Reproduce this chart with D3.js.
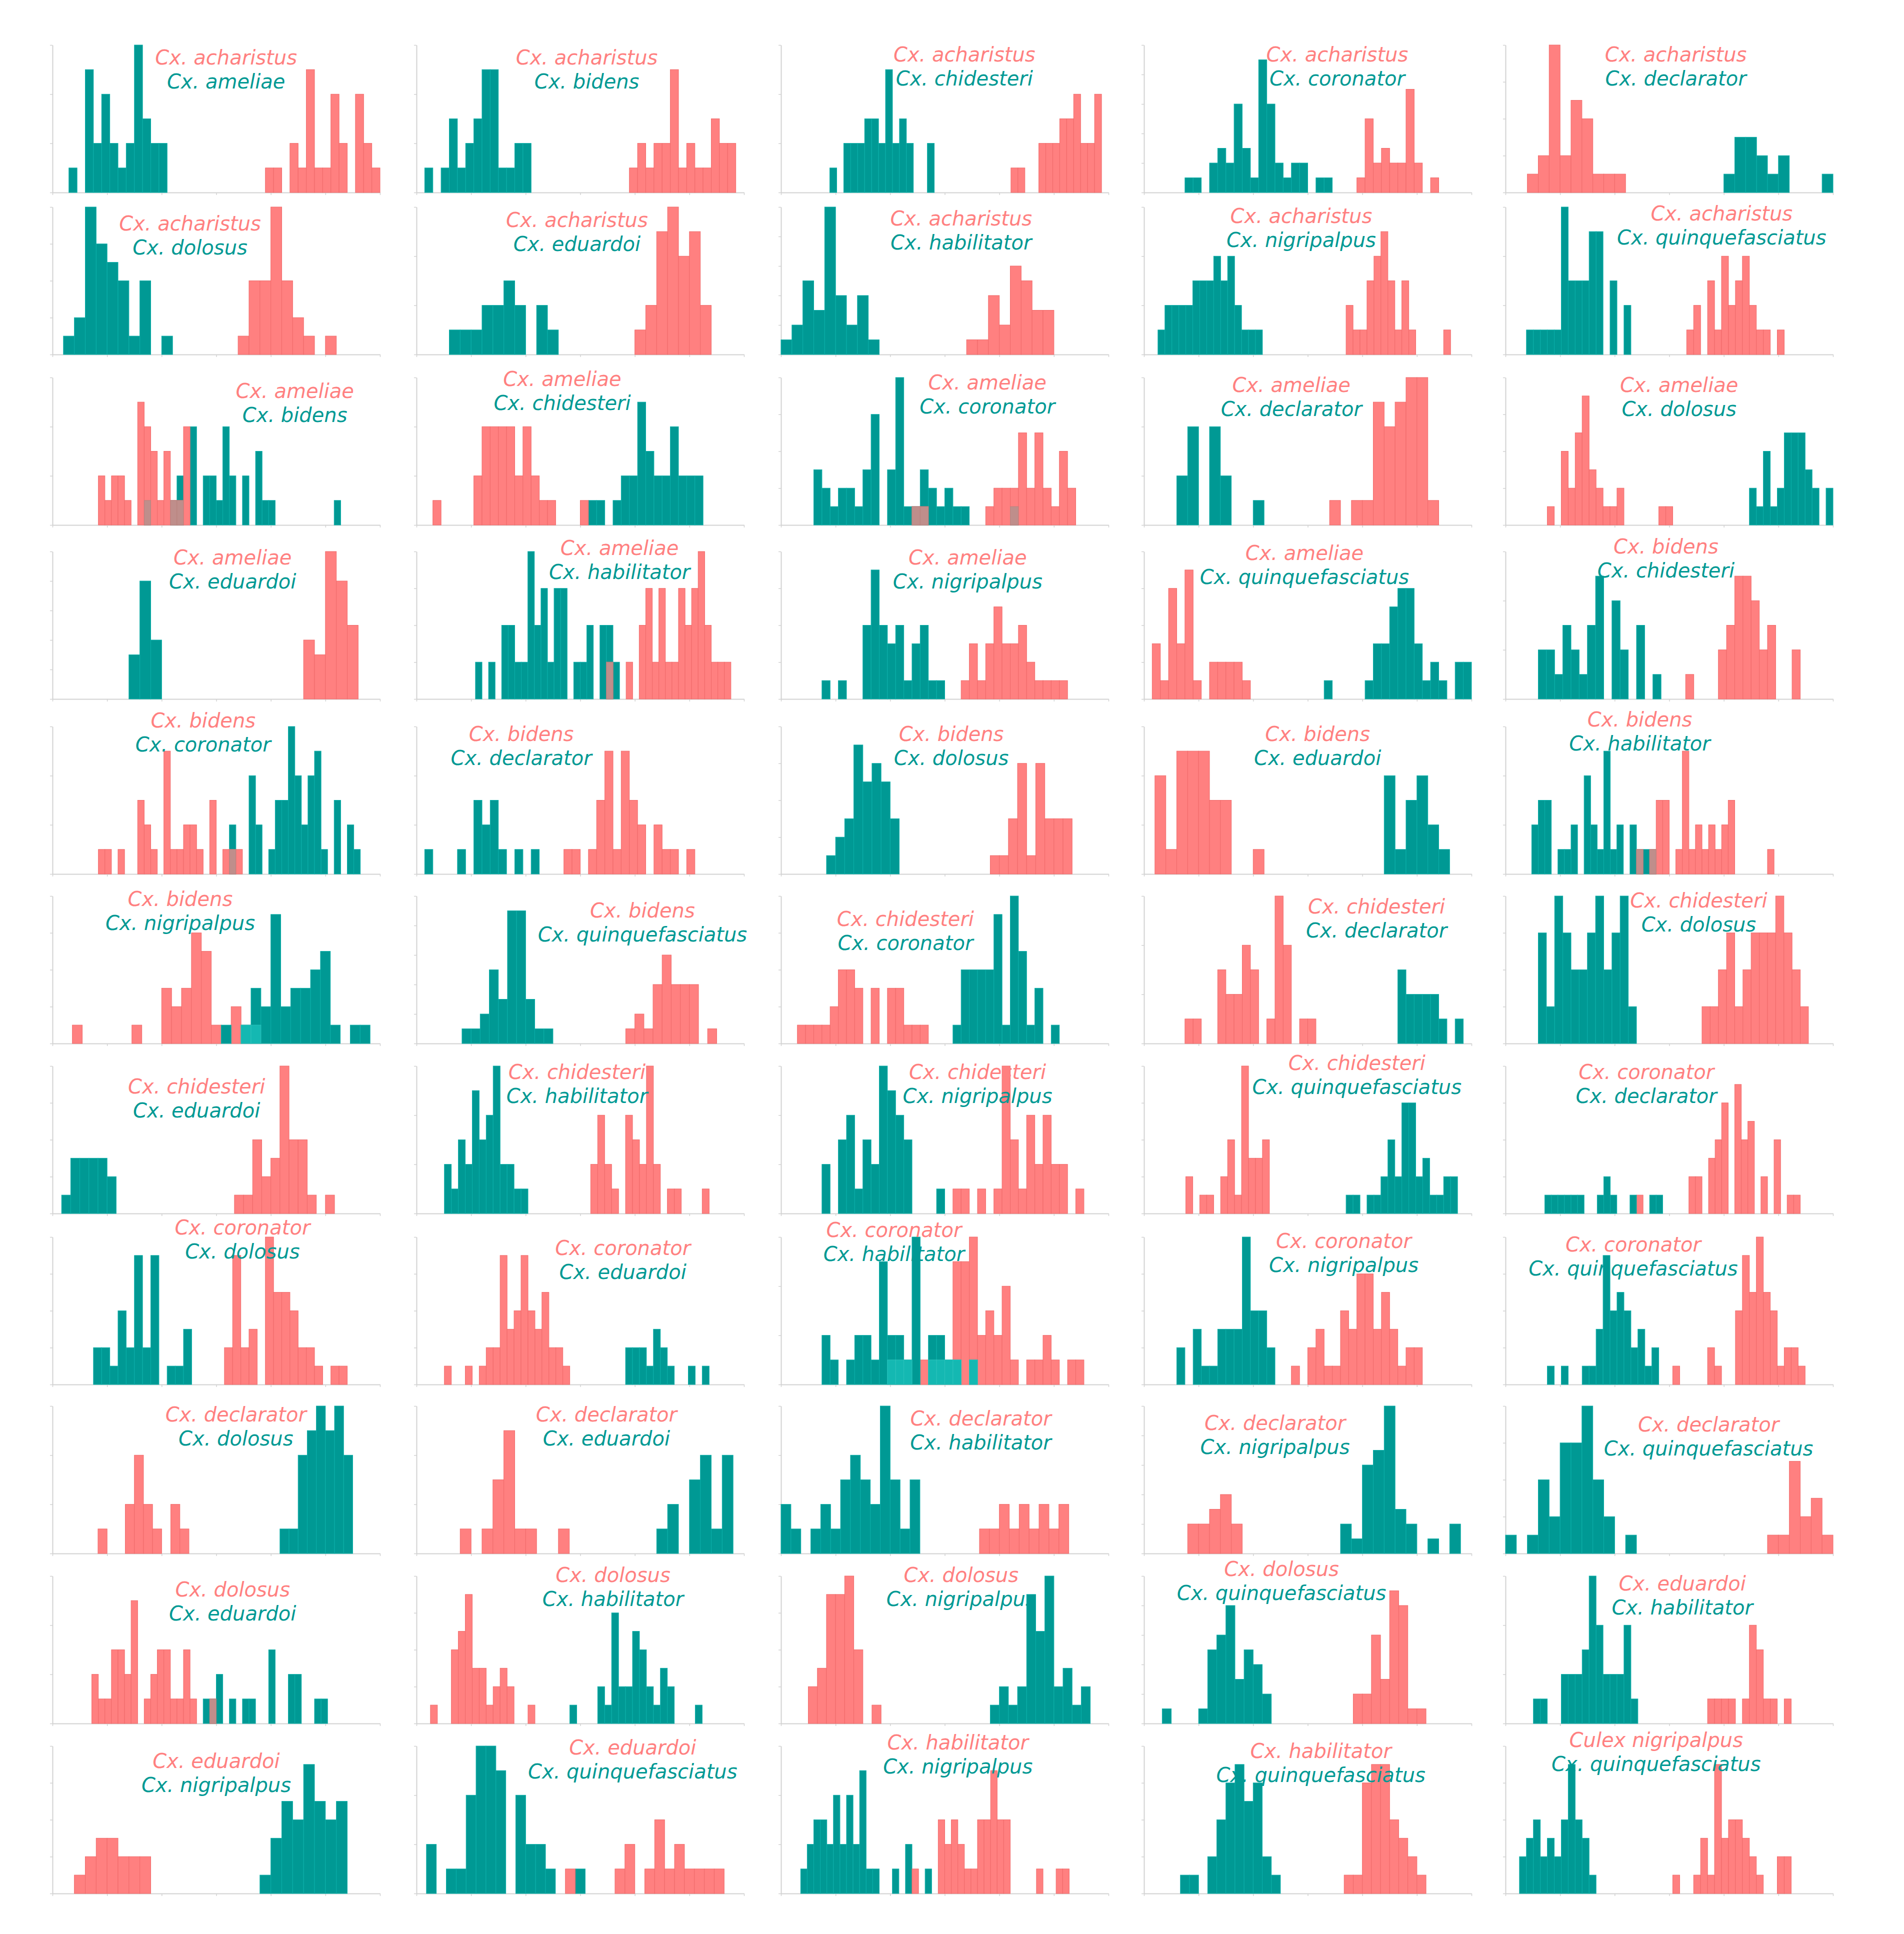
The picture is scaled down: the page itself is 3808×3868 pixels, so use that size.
<!DOCTYPE html>
<html>
<head>
<meta charset="utf-8">
<script src="https://cdn.jsdelivr.net/npm/d3@7"></script>
<style>
  body { margin: 0; background: #ffffff; }
  svg { display: block; }
</style>
</head>
<body>
<svg id="chart"></svg>
<script>
// Пары видов: верхняя подпись (розовый) и нижняя (бирюзовый), по строкам слева направо
const pinkNames = [
    "Cx. acharistus", "Cx. acharistus", "Cx. acharistus", "Cx. acharistus", "Cx. acharistus",
    "Cx. acharistus", "Cx. acharistus", "Cx. acharistus", "Cx. acharistus", "Cx. acharistus",
    "Cx. ameliae", "Cx. ameliae", "Cx. ameliae", "Cx. ameliae", "Cx. ameliae",
    "Cx. ameliae", "Cx. ameliae", "Cx. ameliae", "Cx. ameliae", "Cx. bidens",
    "Cx. bidens", "Cx. bidens", "Cx. bidens", "Cx. bidens", "Cx. bidens",
    "Cx. bidens", "Cx. bidens", "Cx. chidesteri", "Cx. chidesteri", "Cx. chidesteri",
    "Cx. chidesteri", "Cx. chidesteri", "Cx. chidesteri", "Cx. chidesteri", "Cx. coronator",
    "Cx. coronator", "Cx. coronator", "Cx. coronator", "Cx. coronator", "Cx. coronator",
    "Cx. declarator", "Cx. declarator", "Cx. declarator", "Cx. declarator", "Cx. declarator",
    "Cx. dolosus", "Cx. dolosus", "Cx. dolosus", "Cx. dolosus", "Cx. eduardoi",
    "Cx. eduardoi", "Cx. eduardoi", "Cx. habilitator", "Cx. habilitator", "Culex nigripalpus"
];
const tealNames = [
    "Cx. ameliae", "Cx. bidens", "Cx. chidesteri", "Cx. coronator", "Cx. declarator",
    "Cx. dolosus", "Cx. eduardoi", "Cx. habilitator", "Cx. nigripalpus", "Cx. quinquefasciatus",
    "Cx. bidens", "Cx. chidesteri", "Cx. coronator", "Cx. declarator", "Cx. dolosus",
    "Cx. eduardoi", "Cx. habilitator", "Cx. nigripalpus", "Cx. quinquefasciatus", "Cx. chidesteri",
    "Cx. coronator", "Cx. declarator", "Cx. dolosus", "Cx. eduardoi", "Cx. habilitator",
    "Cx. nigripalpus", "Cx. quinquefasciatus", "Cx. coronator", "Cx. declarator", "Cx. dolosus",
    "Cx. eduardoi", "Cx. habilitator", "Cx. nigripalpus", "Cx. quinquefasciatus", "Cx. declarator",
    "Cx. dolosus", "Cx. eduardoi", "Cx. habilitator", "Cx. nigripalpus", "Cx. quinquefasciatus",
    "Cx. dolosus", "Cx. eduardoi", "Cx. habilitator", "Cx. nigripalpus", "Cx. quinquefasciatus",
    "Cx. eduardoi", "Cx. habilitator", "Cx. nigripalpus", "Cx. quinquefasciatus", "Cx. habilitator",
    "Cx. nigripalpus", "Cx. quinquefasciatus", "Cx. nigripalpus", "Cx. quinquefasciatus", "Cx. quinquefasciatus"
];

// Число интервалов гистограммы по оси X в каждой панели
const binCounts = [
    40, 40, 47, 40, 30,
    30, 30, 30, 47, 47,
    50, 40, 40, 30, 47,
    30, 50, 40, 40, 40,
    50, 40, 36, 30, 50,
    33, 36, 40, 40, 40,
    36, 47, 40, 47, 50,
    40, 47, 40, 40, 47,
    36, 30, 33, 30, 30,
    50, 47, 36, 36, 47,
    30, 33, 50, 36, 47
];

// Розовая серия: первый интервал и частоты подряд
const pinkStart = [
    26, 26, 33, 26, 2,
    17, 20, 17, 29, 26,
    7, 2, 16, 17, 6,
    23, 29, 22, 1, 22,
    7, 18, 23, 1, 20,
    2, 23, 2, 5, 24,
    20, 25, 21, 6, 20,
    21, 4, 13, 18, 24,
    5, 4, 20, 4, 24,
    6, 2, 3, 23, 29,
    2, 15, 20, 22, 24
];
const pinkHist = [
    [1,1,0,2,1,5,1,1,4,2,0,4,2,1],
    [1,2,1,2,2,5,1,2,1,1,3,2,2],
    [1,1,0,0,2,2,2,3,3,4,2,2,4],
    [1,5,2,3,2,2,7,2,0,1],
    [1,2,8,2,5,4,1,1,1],
    [1,4,4,8,4,2,1,0,1],
    [1,2,5,6,4,5,2],
    [1,1,4,2,6,5,3,3],
    [2,1,1,3,4,5,3,1,3,1,0,0,0,0,1],
    [1,2,0,3,1,4,2,3,4,2,1,1,0,1],
    [2,1,2,2,1,0,5,4,3,1,3,1,1,4],
    [1,0,0,0,0,2,4,4,4,4,2,4,2,1,1,0,0,0,1],
    [1,1,0,0,0,0,0,0,0,1,2,2,2,5,2,5,2,1,4,2],
    [1,0,1,1,5,4,5,6,6,1],
    [1,0,4,2,5,7,3,2,1,1,2,0,0,0,0,0,1,1],
    [4,3,10,8,5],
    [1,0,0,1,0,2,3,1,3,1,1,3,2,3,4,2,1,1,1],
    [1,3,1,3,5,3,3,4,2,1,1,1,1],
    [3,1,6,3,7,1,0,2,2,2,2,1],
    [1,0,0,0,2,3,5,5,4,2,3,0,0,2],
    [1,1,0,1,0,0,3,2,1,0,5,1,1,2,2,1,0,3,0,1,1,1],
    [1,1,0,1,3,5,1,5,3,2,0,2,1,1,0,1],
    [1,1,3,6,1,6,3,3,3],
    [4,1,5,5,5,3,3,0,0,1],
    [1,0,1,3,3,0,1,5,1,2,1,2,1,2,3,0,0,0,0,0,1],
    [1,0,0,0,0,0,1,0,0,3,2,3,6,5,1,0,2,1,1],
    [1,2,1,4,6,4,4,4,0,1],
    [1,1,1,1,2,4,4,3,0,3,0,3,3,1,1,1],
    [1,1,0,0,3,2,2,4,3,0,1,6,4,0,1,1],
    [1,1,2,3,1,2,3,3,3,4,3,2,1],
    [1,1,4,2,3,8,4,4,1,0,1],
    [2,4,2,1,0,4,3,2,6,2,0,1,1,0,0,0,1],
    [1,1,0,1,0,1,6,3,1,4,2,4,2,2,0,1],
    [2,0,1,1,0,2,4,1,8,3,3,4],
    [1,0,0,0,0,0,0,0,2,2,0,3,4,6,0,7,4,5,0,2,0,4,0,1,1],
    [2,7,2,3,0,8,5,5,4,2,2,1,0,1,1],
    [1,0,0,1,0,1,2,2,7,3,4,7,4,3,5,2,2,1],
    [1,1,1,0,1,1,1,1,5,5,6,2,3,2,4,1,0,1,1,2,1,0,1,1],
    [1,0,2,3,1,1,4,3,6,6,3,5,3,1,2,2],
    [1,0,0,0,0,2,1,0,0,4,7,5,8,5,4,1,2,2,1],
    [1,0,0,2,4,2,1,0,2,1],
    [1,0,1,3,5,1,1,0,0,1],
    [1,1,2,1,2,1,2,1,2],
    [2,2,3,4,2],
    [1,1,5,2,3,1],
    [2,1,1,3,3,2,5,0,1,2,3,3,1,1,3,1,0,0,1],
    [1,0,0,4,5,7,3,3,1,2,3,2,0,0,1],
    [2,3,7,7,8,4,0,1],
    [2,2,6,3,9,8,1,1],
    [1,1,1,1,0,1,4,3,1,1,0,1],
    [1,2,3,3,2,2,2],
    [1,0,0,0,0,1,2,0,1,3,1,2,1,1,1,1],
    [1,0,0,0,3,2,3,2,1,1,3,3,5,3,3,0,0,0,0,1,0,0,1,1],
    [1,1,6,7,7,4,3,2,1],
    [1,0,0,1,3,1,7,3,4,4,3,2,1,0,0,2,2]
];

// Бирюзовая серия: первый интервал и частоты подряд
const tealStart = [
    2, 1, 7, 5, 20,
    1, 3, 0, 2, 3,
    14, 21, 4, 3, 35,
    7, 9, 5, 22, 4,
    27, 1, 5, 22, 4,
    17, 5, 21, 31, 4,
    1, 4, 5, 29, 6,
    5, 30, 5, 4, 6,
    25, 22, 0, 18, 0,
    23, 22, 23, 2, 4,
    19, 1, 3, 4, 2
];
const tealHist = [
    [1,0,5,2,4,2,1,2,6,3,2,2],
    [1,0,1,3,1,2,3,5,5,1,1,2,2],
    [1,0,2,2,2,3,3,2,5,2,3,2,0,0,2],
    [1,1,0,2,3,2,6,3,1,9,6,2,1,2,2,0,1,1],
    [1,3,3,2,1,2,0,0,0,1],
    [1,2,8,6,5,4,1,4,0,1],
    [1,1,1,2,2,3,2,0,2,1],
    [1,2,5,3,10,4,2,4,1],
    [1,2,2,2,2,3,3,3,4,3,4,2,1,1,1],
    [1,1,1,1,1,6,3,3,3,5,5,0,3,0,2],
    [1,0,0,0,1,2,0,4,0,2,2,1,4,2,0,2,0,3,1,1,0,0,0,0,0,0,0,0,0,1],
    [1,1,0,1,2,2,5,3,2,2,4,2,2,2],
    [3,2,1,2,2,1,3,6,0,3,8,1,1,3,2,1,2,1,1,0,0,0,0,0,1],
    [2,4,0,4,2,0,0,1],
    [2,1,4,1,2,5,5,5,3,2,0,2],
    [3,8,4],
    [1,0,1,0,2,2,1,1,4,2,3,1,3,3,0,1,1,2,0,2,2,1],
    [1,0,1,0,0,4,7,4,3,4,1,3,4,1,1],
    [1,0,0,0,0,1,3,3,5,6,6,3,1,2,1,0,2,2],
    [2,2,1,3,2,1,3,5,0,4,2,0,3,0,1],
    [2,0,0,4,2,0,1,3,3,6,4,2,4,5,1,0,3,0,2,1],
    [1,0,0,0,1,0,3,2,3,1,0,1,0,1],
    [1,2,3,7,5,6,5,3],
    [4,1,3,4,2,1],
    [2,3,3,0,1,1,2,0,4,2,1,5,1,2,0,2,1,1,1],
    [1,0,1,3,2,7,2,3,3,4,5,1,0,1,1],
    [1,1,2,5,3,9,9,3,1,1],
    [1,4,4,4,4,7,1,8,5,1,3,0,1],
    [3,2,2,2,2,1,0,1],
    [3,1,4,3,2,2,3,4,2,3,4,1],
    [1,3,3,3,3,2],
    [2,1,3,2,5,3,4,6,2,2,1,1],
    [2,0,3,4,1,3,2,6,5,4,3,0,0,0,1],
    [1,1,0,1,1,2,4,2,6,6,2,3,1,1,2,2],
    [1,1,1,1,1,1,0,0,1,2,1,0,0,1,0,0,1,1],
    [2,2,1,4,2,7,2,7,0,1,1,3],
    [2,2,2,1,3,2,1,0,0,1,0,1],
    [2,1,0,1,2,2,1,5,2,2,1,6,0,2,2,1,1,0,1],
    [2,0,3,1,1,3,3,3,8,4,4,2],
    [1,0,1,0,0,1,1,3,7,4,5,4,2,3,1,2],
    [1,1,4,5,6,5,6,4],
    [1,2,0,3,4,1,4],
    [2,1,0,1,2,1,3,4,3,2,6,3,1,3],
    [2,1,6,7,10,3,2,0,1,0,2],
    [1,0,1,4,2,6,6,8,4,2,0,1],
    [1,1,2,0,1,0,1,1,0,0,3,0,0,2,2,0,0,1,1],
    [1,0,0,0,2,1,6,2,2,5,4,2,1,3,2,0,0,0,1],
    [1,2,1,2,7,5,8,2,3,1,2],
    [1,0,0,0,1,5,6,8,3,5,4,2],
    [1,1,0,0,2,2,2,3,6,4,2,2,2,4,1],
    [1,3,5,4,7,5,4,5],
    [2,0,1,1,4,6,6,5,0,4,2,2,1,0,0,1],
    [1,2,3,3,2,4,2,4,2,5,1,1,0,0,1,0,2,0,0,1],
    [1,1,0,2,4,6,7,5,6,2,1],
    [2,3,4,2,3,2,4,7,4,3,1]
];

// Панели, где бирюзовые столбцы лежат поверх розовых
const tealOnTop = [25, 34, 37];

// Раскладка сетки
const svg_width = 3808, svg_height = 3868;
const colLeft = [105, 833, 1562, 2288, 3011];
const rowTop = [90, 414, 755, 1103, 1453, 1792, 2132, 2474, 2812, 3152, 3492];
const panelW = 655, panelH = 295;

// Положение подписи: доля ширины панели и отступ базовой линии от верха
const labelX = [
    0.53, 0.52, 0.56, 0.59, 0.52,
    0.42, 0.49, 0.55, 0.48, 0.66,
    0.74, 0.445, 0.63, 0.45, 0.53,
    0.55, 0.62, 0.57, 0.49, 0.49,
    0.46, 0.32, 0.52, 0.53, 0.41,
    0.39, 0.69, 0.38, 0.71, 0.59,
    0.44, 0.49, 0.60, 0.65, 0.43,
    0.58, 0.63, 0.345, 0.61, 0.39,
    0.56, 0.58, 0.61, 0.40, 0.62,
    0.55, 0.60, 0.55, 0.42, 0.54,
    0.50, 0.66, 0.54, 0.54, 0.46
];
const labelDy = [
    39, 39, 33, 33, 33,
    47, 40, 37, 32, 27,
    41, 17, 24, 29, 29,
    26, 7, 26, 17, 4,
    2, 29, 29, 29, 0,
    20, 43, 60, 35, 23,
    55, 26, 26, 8, 26,
    -5, 36, 0, 22, 29,
    31, 31, 39, 48, 51,
    41, 12, 12, 0, 29,
    44, 17, 7, 24, 2
];

const PINK = "#ff8080", PINK_EDGE = "#f06a6a";
const TEAL = "#009994", TEAL_EDGE = "#0bb0aa";
const AXIS = "#d2d2d2";

const svg = d3.select("#chart")
    .attr("width", svg_width)
    .attr("height", svg_height)
    .attr("viewBox", `0 0 ${svg_width} ${svg_height}`);

svg.append("rect")
    .attr("width", svg_width)
    .attr("height", svg_height)
    .attr("fill", "#ffffff");

//Переводим (старт, частоты) в список непустых интервалов
function toBins(start, counts) {
    return counts
        .map((n, k) => ({bin: start + k, n: n}))
        .filter(d => d.n > 0);
}

//Рисуем столбцы одной серии
function drawBars(g, bins, x, y, fill, edge) {
    g.append("g")
        .selectAll("rect")
        .data(bins)
        .join("rect")
        .attr("x", d => x(d.bin))
        .attr("y", d => y(d.n))
        .attr("width", d => x(d.bin + 1) - x(d.bin))
        .attr("height", d => y(0) - y(d.n))
        .attr("fill", fill)
        .attr("stroke", edge)
        .attr("stroke-width", 1);
}

//Рисуем одну панель с гистограммами
function drawPanel(i) {
    const row = Math.floor(i / 5), col = i % 5;
    const left = colLeft[col], top = rowTop[row], bottom = top + panelH;
    const nBins = binCounts[i];

    const pink = toBins(pinkStart[i], pinkHist[i]);
    const teal = toBins(tealStart[i], tealHist[i]);
    const maxN = d3.max(pink.concat(teal), d => d.n);
    const yMax = Math.ceil(maxN / 2) * 2;

    const x = d3.scaleLinear().domain([0, nBins]).range([left, left + panelW]);
    const y = d3.scaleLinear().domain([0, yMax]).range([bottom, top]);

    const g = svg.append("g").attr("class", "panel");

    // Оси
    const xAxis = g.append("g")
        .attr("transform", `translate(0,${bottom})`)
        .call(d3.axisBottom(x)
            .tickValues(d3.range(7).map(k => k * nBins / 6))
            .tickFormat("")
            .tickSize(5)
            .tickSizeOuter(0));
    const yAxis = g.append("g")
        .attr("transform", `translate(${left},0)`)
        .call(d3.axisLeft(y)
            .tickValues(d3.range(0, yMax + 1, yMax > 4 ? 2 : 1))
            .tickFormat("")
            .tickSize(5)
            .tickSizeOuter(0));
    [xAxis, yAxis].forEach(a => {
        a.select(".domain").attr("stroke", AXIS).attr("stroke-width", 2);
        a.selectAll(".tick line").attr("stroke", AXIS).attr("stroke-width", 1.5);
    });

    // Столбцы
    const onTop = tealOnTop.includes(i);
    if (onTop) {
        drawBars(g, pink, x, y, PINK, PINK_EDGE);
        drawBars(g, teal, x, y, TEAL, TEAL_EDGE);
    } else {
        drawBars(g, teal, x, y, TEAL, TEAL_EDGE);
        drawBars(g, pink, x, y, PINK, PINK_EDGE);
    }

    // Пересечение серий
    const tealMap = new Map(teal.map(d => [d.bin, d.n]));
    const overlap = pink
        .filter(d => tealMap.has(d.bin))
        .map(d => ({bin: d.bin, n: Math.min(d.n, tealMap.get(d.bin))}));
    drawBars(g, overlap, x, y,
        onTop ? "#14b8b2" : "#bf8e8b",
        onTop ? "#2cc2bc" : "#b8837f");

    // Подписи видов
    const cx = left + labelX[i] * panelW;
    const baseY = top + labelDy[i];
    g.append("text")
        .attr("x", cx)
        .attr("y", baseY)
        .attr("text-anchor", "middle")
        .attr("font-family", "'DejaVu Sans', Verdana, sans-serif")
        .attr("font-style", "italic")
        .attr("font-size", 40)
        .attr("fill", PINK)
        .text(pinkNames[i]);
    g.append("text")
        .attr("x", cx)
        .attr("y", baseY + 48)
        .attr("text-anchor", "middle")
        .attr("font-family", "'DejaVu Sans', Verdana, sans-serif")
        .attr("font-style", "italic")
        .attr("font-size", 40)
        .attr("fill", TEAL)
        .text(tealNames[i]);
}

d3.range(pinkNames.length).forEach(drawPanel);
</script>
</body>
</html>
